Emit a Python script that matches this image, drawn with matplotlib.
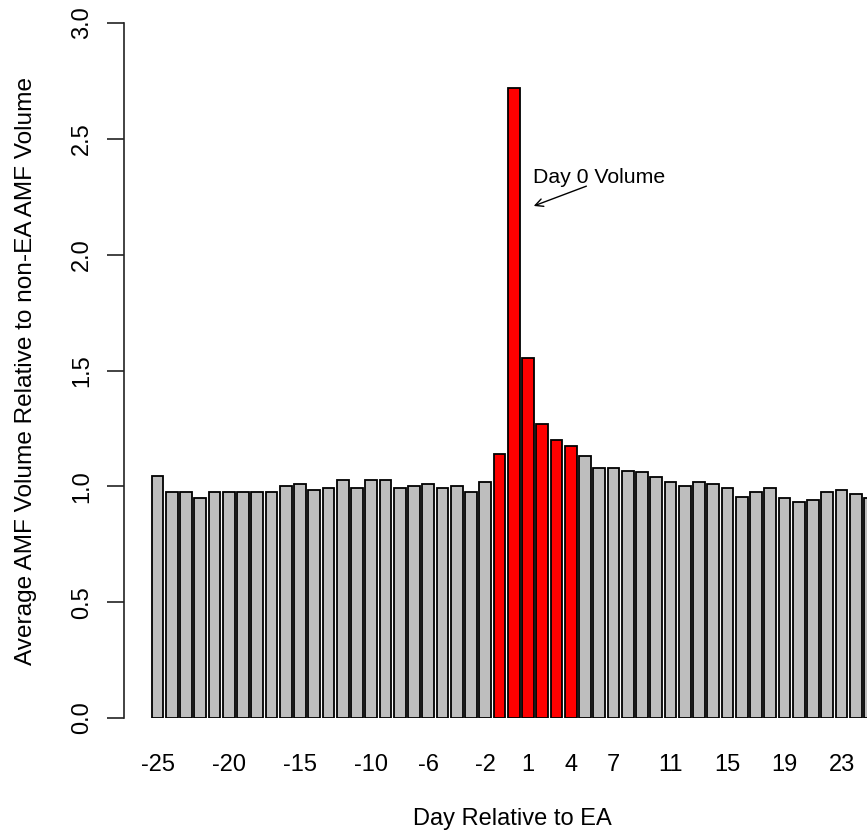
import matplotlib
matplotlib.use("Agg")
import matplotlib.pyplot as plt
import numpy as np

plt.rcParams['font.family'] = ['Liberation Sans', 'DejaVu Sans']

# Data
days = list(range(-25, 26))
volume = [1.045, 0.974, 0.974, 0.948, 0.974, 0.974, 0.974, 0.974, 0.974, 1.000,
          1.010, 0.983, 0.991, 1.026, 0.991, 1.027, 1.027, 0.991, 1.001, 1.009,
          0.991, 1.000, 0.975, 1.019, 1.140, 2.718, 1.554, 1.270, 1.199, 1.173,
          1.130, 1.078, 1.078, 1.068, 1.060, 1.042, 1.017, 1.000, 1.017, 1.009,
          0.991, 0.955, 0.974, 0.991, 0.948, 0.931, 0.940, 0.976, 0.983, 0.966,
          0.948]
highlight_days = [-1, 0, 1, 2, 3, 4]
shown_labels = [-25, -20, -15, -10, -6, -2, 1, 4, 7, 11, 15, 19, 23]
yticks = [0.0, 0.5, 1.0, 1.5, 2.0, 2.5, 3.0]

W, H = 867, 835
fig = plt.figure(figsize=(W / 100, H / 100), dpi=100)

# axes placement in pixels
left_px, right_px, top_px, bottom_px = 123.5, 867, 23, 718
ax = fig.add_axes([left_px / W, 1 - bottom_px / H,
                   (right_px - left_px) / W, (bottom_px - top_px) / H])

colors = ['#FF0000' if d in highlight_days else '#BEBEBE' for d in days]
ax.bar(days, volume, width=0.82, color=colors, edgecolor='black',
       linewidth=1.3, zorder=2)

# x scale: pixel center(day) = 157.5 + 14.25*(day+25)
pitch = 14.25
x0 = -25 - (157.5 - left_px) / pitch
x1 = -25 + (right_px - 157.5) / pitch
ax.set_xlim(x0, x1)
ax.set_ylim(0, 3.0)

for s in ['top', 'right', 'bottom']:
    ax.spines[s].set_visible(False)
ax.spines['left'].set_linewidth(1.2)
ax.spines['left'].set_color('#222222')

ax.set_xticks(shown_labels)
ax.set_xticklabels([str(d) for d in shown_labels], fontsize=17)
ax.tick_params(axis='x', length=0, pad=26)

ax.set_yticks(yticks)
ax.set_yticklabels([f"{v:.1f}" for v in yticks], fontsize=17, rotation=90,
                   va='center')
ax.tick_params(axis='y', length=12, width=1.2, pad=10, color='#222222')

fig.text(512.5 / W, 1 - 825 / H, "Day Relative to EA", fontsize=17,
         ha='center', va='baseline')
fig.text(32 / W, 1 - 371 / H, "Average AMF Volume Relative to non-EA AMF Volume",
         fontsize=17.6, rotation=90, rotation_mode='anchor', ha='center',
         va='baseline')

ax.annotate("", xy=(1.22, 2.206), xytext=(5.28, 2.30),
            arrowprops=dict(arrowstyle='->', color='black', lw=1.0,
                            mutation_scale=14))
ax.text(5.98, 2.335, "Day 0 Volume", fontsize=15.3, ha='center', va='center')

fig.savefig("out.png", dpi=100)
